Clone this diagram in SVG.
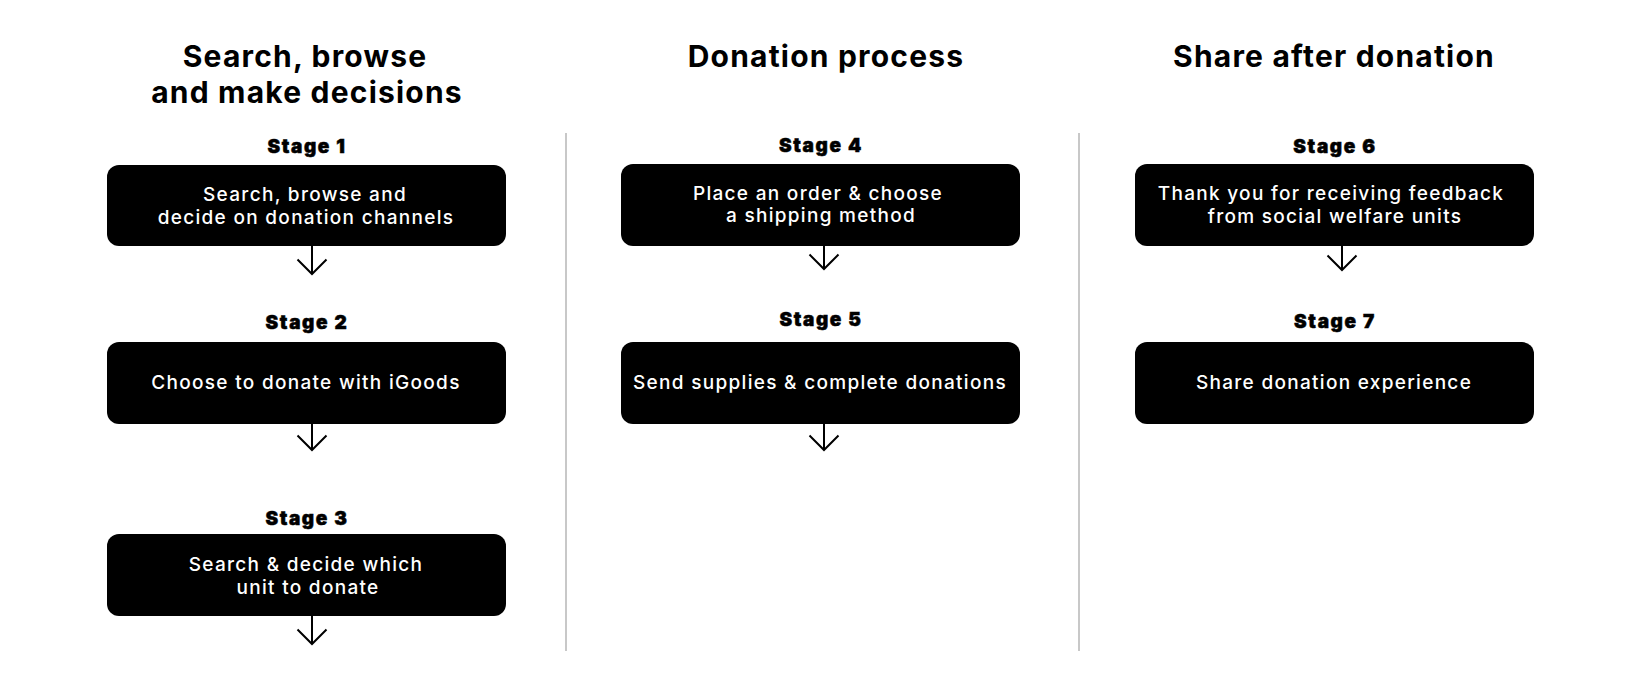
<svg xmlns="http://www.w3.org/2000/svg" width="1641" height="690" viewBox="0 0 1641 690">
<style>
.bg{fill:#ffffff}
.h{font-family:Inter,"Open Sans","Liberation Sans",sans-serif;font-weight:700;font-size:30px;letter-spacing:1.2px;fill:#000;text-anchor:middle}
.st{font-family:Inter,"Open Sans","Liberation Sans",sans-serif;font-weight:900;font-size:19px;letter-spacing:1.6px;fill:#000;stroke:#000;stroke-width:0.5;text-anchor:middle}
.box{fill:#000}
.bt{font-family:Inter,"Open Sans","Liberation Sans",sans-serif;font-weight:500;font-size:19px;letter-spacing:1.3px;fill:#fff;text-anchor:middle}
.div{stroke:#c8c8c8;stroke-width:2}
.ar{stroke:#000;stroke-width:2;fill:none}
</style>
<rect class="bg" x="0" y="0" width="1641" height="690"/>
<g id="headings">
<text class="h" x="305" y="67">Search, browse</text>
<text class="h" x="307" y="103">and make decisions</text>
<text class="h" x="826" y="67">Donation process</text>
<text class="h" x="1334" y="67">Share after donation</text>
</g>
<g id="dividers">
<line class="div" x1="566" y1="133" x2="566" y2="651"/>
<line class="div" x1="1079" y1="133" x2="1079" y2="651"/>
</g>
<g id="stage1">
<text class="st" x="307" y="153">Stage 1</text>
<rect class="box" x="107" y="165" width="399" height="81" rx="12"/>
<text class="bt" x="305" y="201">Search, browse and</text>
<text class="bt" x="306" y="224">decide on donation channels</text>
</g>
<g id="stage2">
<text class="st" x="307" y="329">Stage 2</text>
<rect class="box" x="107" y="342" width="399" height="82" rx="12"/>
<text class="bt" x="306" y="389">Choose to donate with iGoods</text>
</g>
<g id="stage3">
<text class="st" x="307" y="525">Stage 3</text>
<rect class="box" x="107" y="534" width="399" height="82" rx="12"/>
<text class="bt" x="306" y="571">Search &amp; decide which</text>
<text class="bt" x="308" y="594">unit to donate</text>
</g>
<g id="stage4">
<text class="st" x="821" y="152">Stage 4</text>
<rect class="box" x="621" y="164" width="399" height="82" rx="12"/>
<text class="bt" x="818" y="200">Place an order &amp; choose</text>
<text class="bt" x="821" y="222">a shipping method</text>
</g>
<g id="stage5">
<text class="st" x="821" y="326">Stage 5</text>
<rect class="box" x="621" y="342" width="399" height="82" rx="12"/>
<text class="bt" x="820" y="389">Send supplies &amp; complete donations</text>
</g>
<g id="stage6">
<text class="st" x="1335" y="153">Stage 6</text>
<rect class="box" x="1135" y="164" width="399" height="82" rx="12"/>
<text class="bt" x="1331" y="200">Thank you for receiving feedback</text>
<text class="bt" x="1335" y="223">from social welfare units</text>
</g>
<g id="stage7">
<text class="st" x="1335" y="328">Stage 7</text>
<rect class="box" x="1135" y="342" width="399" height="82" rx="12"/>
<text class="bt" x="1334" y="389">Share donation experience</text>
</g>
<g id="connectors">
<path class="ar" d="M312 246V274M297.5 259.5L312 274L326.5 259.5"/>
<path class="ar" d="M312 424V450M297.5 435.5L312 450L326.5 435.5"/>
<path class="ar" d="M312 616V644M297.5 629.5L312 644L326.5 629.5"/>
<path class="ar" d="M824 246V269M809.5 254.5L824 269L838.5 254.5"/>
<path class="ar" d="M824 424V450M809.5 435.5L824 450L838.5 435.5"/>
<path class="ar" d="M1342 246V270M1327.5 255.5L1342 270L1356.5 255.5"/>
</g>
</svg>
